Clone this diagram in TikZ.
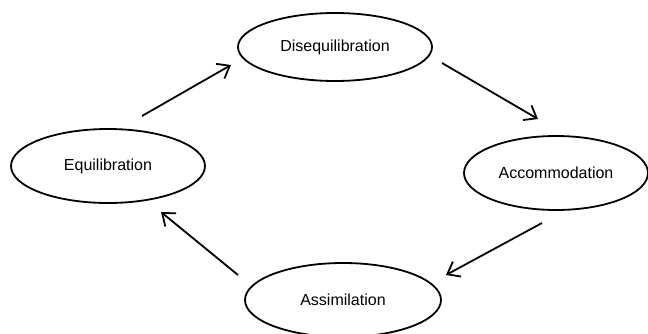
\documentclass[tikz,border=0pt]{standalone}
\usepackage{fontspec}
\setmainfont{Liberation Sans}
\usetikzlibrary{shapes.geometric,arrows.meta}
\begin{document}
\begin{tikzpicture}[x=1pt,y=-1pt,
  stage/.style={ellipse,draw=black,line width=1.8pt,inner sep=0pt,font=\fontsize{16}{19}\selectfont},
  arr/.style={line width=1.8pt,-{Straight Barb[length=11pt,width=17pt]}}]
\useasboundingbox (0,0) rectangle (648,334);
\node[stage,minimum width=194pt,minimum height=68pt] (dis) at (335,47) {Disequilibration};
\node[stage,minimum width=194pt,minimum height=74pt] (equi) at (108,166) {Equilibration};
\node[stage,minimum width=184pt,minimum height=74pt] (acc) at (556,173) {Accommodation};
\node[stage,minimum width=196pt,minimum height=74pt] (ass) at (343,300) {Assimilation};
\coordinate (a1s) at (142,116);
\coordinate (a1e) at (231,65);
\coordinate (a2s) at (442,63);
\coordinate (a2e) at (538,119);
\coordinate (a3s) at (542,223);
\coordinate (a3e) at (446,275);
\coordinate (a4s) at (238,275);
\coordinate (a4e) at (161,212);
\draw[arr] (a1s) -- (a1e);
\draw[arr] (a2s) -- (a2e);
\draw[arr] (a3s) -- (a3e);
\draw[arr] (a4s) -- (a4e);
\end{tikzpicture}
\end{document}
